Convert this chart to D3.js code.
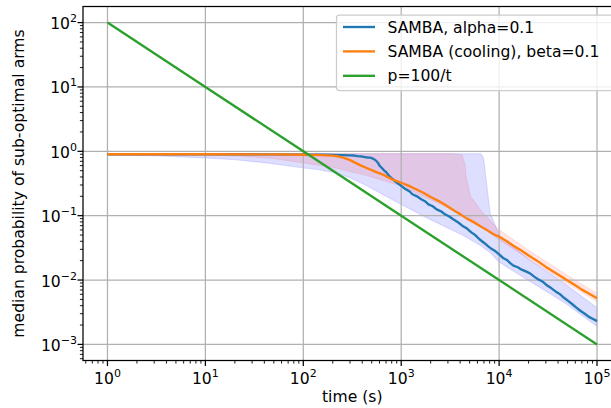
<!DOCTYPE html>
<html>
<head>
<meta charset="utf-8">
<script src="https://cdn.jsdelivr.net/npm/d3@7"></script>
<style>
  html, body { margin: 0; padding: 0; background: #fff; }
  svg { display: block; }
  text { font-family: "DejaVu Sans", sans-serif; }
</style>
</head>
<body>
<svg id="chart" width="611" height="408"></svg>
<script>
// ---------------- data ----------------
const seriesNames = ["SAMBA, alpha=0.1", "SAMBA (cooling), beta=0.1", "p=100/t"];
const seriesColors = ["#1f77b4", "#ff7f0e", "#2ca02c"];

// median of blue series [t, value]
const sambaMedian = [[1,0.9],[2,0.9],[5,0.9],[10,0.9],[20,0.9],[50,0.895],[100,0.89],[150,0.885],[200,0.88],[250,0.872],[300,0.865],[330,0.86],[360,0.84],[400,0.83],[430,0.81],[470,0.8],[500,0.79],[520,0.76],[540,0.74],[560,0.7],[580,0.66],[600,0.6],[620,0.57],[650,0.53],[680,0.49],[700,0.48],[730,0.44],[770,0.4],[820,0.37],[870,0.34],[930,0.315],[1000,0.29],[1080,0.265],[1150,0.25],[1230,0.235],[1300,0.215],[1450,0.2],[1600,0.18],[1750,0.168],[1900,0.15],[2100,0.14],[2300,0.125],[2550,0.117],[2800,0.105],[3100,0.097],[3400,0.088],[3800,0.079],[4200,0.07],[4700,0.063],[5200,0.055],[5700,0.05],[6300,0.043],[7000,0.038],[7800,0.033],[8500,0.03],[9200,0.028],[10000,0.025],[11000,0.022],[12000,0.0205],[13000,0.0183],[14000,0.0167],[15500,0.0158],[17000,0.0145],[19000,0.0135],[21000,0.0125],[23000,0.0112],[25000,0.0103],[28000,0.0094],[31000,0.0082],[34000,0.0075],[38000,0.0066],[42000,0.006],[46000,0.0053],[51000,0.0047],[56000,0.0042],[62000,0.0037],[68000,0.0033],[75000,0.003],[82000,0.0027],[90000,0.0025],[100000,0.0023]];

// median of orange series [t, value]
const coolingMedian = [[1,0.9],[10,0.9],[50,0.895],[100,0.885],[150,0.875],[200,0.855],[230,0.83],[260,0.79],[300,0.73],[330,0.68],[380,0.61],[450,0.545],[550,0.48],[660,0.43],[800,0.37],[900,0.345],[1000,0.325],[1200,0.29],[1400,0.26],[1700,0.225],[2000,0.195],[2400,0.17],[2800,0.148],[3300,0.126],[4000,0.105],[4700,0.09],[5600,0.078],[6500,0.068],[7500,0.06],[8700,0.052],[10000,0.047],[12000,0.04],[14000,0.034],[17000,0.0285],[20000,0.024],[25000,0.0195],[30000,0.016],[40000,0.0122],[50000,0.0098],[60000,0.0083],[70000,0.0071],[85000,0.006],[100000,0.0052]];

// reference line p = 100/t  [t, value]
const referenceLine = [[1,100],[10,10],[100,1],[1000,0.1],[10000,0.01],[100000,0.001]];

// quantile bands [t, low, high]
const sambaBand = [[1,0.88,0.92],[3,0.85,0.92],[10,0.79,0.92],[20,0.74,0.92],[42,0.66,0.92],[100,0.55,0.92],[140,0.52,0.92],[205,0.47,0.92],[300,0.39,0.92],[450,0.29,0.92],[660,0.21,0.92],[1000,0.15,0.92],[1900,0.09,0.92],[4200,0.05,0.92],[6500,0.034,0.92],[6900,0.032,0.8],[7100,0.031,0.6],[7500,0.029,0.29],[8100,0.027,0.11],[9100,0.022,0.072],[10000,0.019,0.05],[20000,0.0098,0.021],[46000,0.0045,0.009],[100000,0.0019,0.0037]];

const coolingBand = [[1,0.89,0.92],[10,0.88,0.92],[20,0.85,0.92],[50,0.77,0.92],[100,0.66,0.92],[200,0.56,0.92],[450,0.42,0.92],[1000,0.29,0.92],[2000,0.175,0.92],[3300,0.125,0.92],[3800,0.115,0.9],[4200,0.105,0.87],[4500,0.1,0.6],[4600,0.099,0.41],[5100,0.09,0.2],[6600,0.068,0.117],[9800,0.043,0.062],[20000,0.0215,0.029],[50000,0.0088,0.0118],[100000,0.0046,0.0062]];

const xMajorTicks = [1, 10, 100, 1000, 10000, 100000];
const xTickExponents = ["0", "1", "2", "3", "4", "5"];
const yMajorTicks = [0.001, 0.01, 0.1, 1, 10, 100];
const yTickExponents = ["\u22123", "\u22122", "\u22121", "0", "1", "2"];
const xLabel = "time (s)";
const yLabel = "median probability of sub-optimal arms";

// ---------------- layout ----------------
const svg = d3.select("#chart");
const pLeft = 83, pRight = 621.5, pTop = 6.5, pBottom = 360.5;
const fs = 15.6, supFs = 11;

const x = d3.scaleLog().domain([Math.pow(10, -0.25), Math.pow(10, 5.25)]).range([pLeft, pRight]);
const y = d3.scaleLog().domain([Math.pow(10, -3.25), Math.pow(10, 2.25)]).range([pBottom, pTop]);

svg.append("rect").attr("width", 611).attr("height", 408).attr("fill", "#fff");

svg.append("defs").append("clipPath").attr("id", "clip")
  .append("rect").attr("x", pLeft).attr("y", pTop).attr("width", pRight - pLeft).attr("height", pBottom - pTop);

const plot = svg.append("g").attr("clip-path", "url(#clip)");

// bands
const area = d3.area().x(d => x(d[0])).y0(d => y(d[1])).y1(d => y(d[2]));
plot.append("path").datum(sambaBand).attr("d", area)
  .attr("fill", "rgb(0,0,255)").attr("fill-opacity", 0.13)
  .attr("stroke", "rgb(0,0,255)").attr("stroke-opacity", 0.1).attr("stroke-width", 1.2);
plot.append("path").datum(coolingBand).attr("d", area)
  .attr("fill", "rgb(255,0,0)").attr("fill-opacity", 0.1)
  .attr("stroke", "rgb(255,0,0)").attr("stroke-opacity", 0.08).attr("stroke-width", 1.2);

// grid
const grid = plot.append("g");
xMajorTicks.forEach(t => {
  grid.append("line").attr("x1", x(t)).attr("x2", x(t)).attr("y1", pTop).attr("y2", pBottom)
    .attr("stroke", "#b0b0b0").attr("stroke-width", 1.25);
});
yMajorTicks.forEach(t => {
  grid.append("line").attr("x1", pLeft).attr("x2", pRight).attr("y1", y(t)).attr("y2", y(t))
    .attr("stroke", "#b0b0b0").attr("stroke-width", 1.25);
});

// lines
const line = d3.line().x(d => x(d[0])).y(d => y(d[1]));
[sambaMedian, coolingMedian, referenceLine].forEach((data, i) => {
  plot.append("path").datum(data).attr("d", line)
    .attr("fill", "none").attr("stroke", seriesColors[i]).attr("stroke-width", 2.35)
    .attr("stroke-linejoin", "round");
});

// spines
svg.append("rect").attr("x", pLeft).attr("y", pTop).attr("width", pRight - pLeft).attr("height", pBottom - pTop)
  .attr("fill", "none").attr("stroke", "#000").attr("stroke-width", 1.25);

// ticks
const axes = svg.append("g");
function minorTicks(domain) {
  const out = [];
  const lo = Math.floor(Math.log10(domain[0])), hi = Math.ceil(Math.log10(domain[1]));
  for (let e = lo; e <= hi; e++) for (let m = 2; m <= 9; m++) {
    const v = m * Math.pow(10, e);
    if (v >= domain[0] && v <= domain[1]) out.push(v);
  }
  return out;
}
minorTicks(x.domain()).forEach(t => {
  axes.append("line").attr("x1", x(t)).attr("x2", x(t)).attr("y1", pBottom).attr("y2", pBottom + 3.1)
    .attr("stroke", "#000").attr("stroke-width", 0.9);
});
minorTicks(y.domain()).forEach(t => {
  axes.append("line").attr("x1", pLeft).attr("x2", pLeft - 3.1).attr("y1", y(t)).attr("y2", y(t))
    .attr("stroke", "#000").attr("stroke-width", 0.9);
});
xMajorTicks.forEach((t, i) => {
  axes.append("line").attr("x1", x(t)).attr("x2", x(t)).attr("y1", pBottom).attr("y2", pBottom + 5.5)
    .attr("stroke", "#000").attr("stroke-width", 1.25);
  const txt = axes.append("text").attr("x", x(t)).attr("y", 384)
    .attr("text-anchor", "middle").attr("font-size", fs).attr("fill", "#000");
  txt.append("tspan").text("10");
  txt.append("tspan").attr("dy", -7).attr("font-size", supFs).text(xTickExponents[i]);
});
yMajorTicks.forEach((t, i) => {
  axes.append("line").attr("x1", pLeft).attr("x2", pLeft - 5.5).attr("y1", y(t)).attr("y2", y(t))
    .attr("stroke", "#000").attr("stroke-width", 1.25);
  const txt = axes.append("text").attr("x", pLeft - 6).attr("y", y(t) + 6.5)
    .attr("text-anchor", "end").attr("font-size", fs).attr("fill", "#000");
  txt.append("tspan").text("10");
  txt.append("tspan").attr("dy", -7).attr("font-size", supFs).text(yTickExponents[i]);
});

// axis labels
svg.append("text").attr("x", (pLeft + pRight) / 2).attr("y", 401.5)
  .attr("text-anchor", "middle").attr("font-size", fs).text(xLabel);
svg.append("text").attr("transform", `translate(24,${(pTop + pBottom) / 2}) rotate(-90)`)
  .attr("text-anchor", "middle").attr("font-size", fs).text(yLabel);

// legend
const lg = svg.append("g");
lg.append("rect").attr("x", 336.5).attr("y", 15).attr("width", 277).attr("height", 75.5).attr("rx", 3)
  .attr("fill", "#fff").attr("fill-opacity", 0.8).attr("stroke", "#cccccc").attr("stroke-width", 1.25);
seriesNames.forEach((name, i) => {
  const yy = 27 + i * 24.4;
  lg.append("line").attr("x1", 343).attr("x2", 375).attr("y1", yy).attr("y2", yy)
    .attr("stroke", seriesColors[i]).attr("stroke-width", 2.35);
  lg.append("text").attr("x", 387.5).attr("y", yy + 5.5).attr("font-size", fs).attr("fill", "#000").text(name);
});
</script>
</body>
</html>
